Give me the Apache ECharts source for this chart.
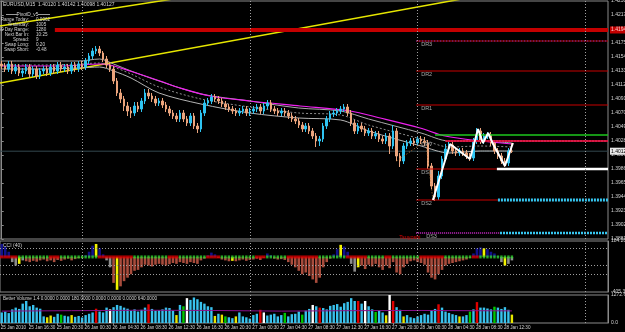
<!DOCTYPE html>
<html>
<head>
<meta charset="utf-8">
<script src="https://cdn.jsdelivr.net/npm/echarts@6/dist/echarts.min.js"></script>
<style>
html, body {margin: 0; padding: 0; background: #000;}
#main {width: 625px; height: 332px;}
</style>
</head>
<body>
<div id="main"></div>
<script>
const FONT = 'Liberation Sans'
const TXT = '#d4d4d4'

//half hour bars, 25 Jan 12:30 .. 28 Jan 13:30, [open, close, low, high]
const candles = [
  [1.41435, 1.41405, 1.4136, 1.4148], [1.41405, 1.4136, 1.41315, 1.4145], [1.4136, 1.41435, 1.41315, 1.4148],
  [1.41435, 1.4133, 1.41285, 1.4148], [1.4133, 1.4139, 1.41285, 1.41435], [1.4139, 1.413, 1.41255, 1.41435],
  [1.413, 1.4133, 1.4124, 1.41375], [1.4133, 1.4139, 1.41285, 1.41435], [1.4139, 1.41285, 1.41225, 1.41435],
  [1.41285, 1.4136, 1.4124, 1.41405], [1.4136, 1.41255, 1.4121, 1.41405], [1.41255, 1.4133, 1.4121, 1.41375],
  [1.4133, 1.4136, 1.41285, 1.41405], [1.4136, 1.413, 1.41255, 1.41405], [1.413, 1.4139, 1.41255, 1.41435],
  [1.4139, 1.4133, 1.41285, 1.41435], [1.4133, 1.4142, 1.41285, 1.41465], [1.4142, 1.4136, 1.41315, 1.41465],
  [1.4136, 1.4139, 1.41315, 1.41435], [1.4139, 1.4133, 1.41285, 1.41435], [1.4133, 1.4142, 1.41285, 1.41465],
  [1.4142, 1.4136, 1.41315, 1.41465], [1.4136, 1.41435, 1.41315, 1.4148], [1.41435, 1.4139, 1.41345, 1.4148],
  [1.4139, 1.4148, 1.41345, 1.41525], [1.4148, 1.41555, 1.41435, 1.416], [1.41555, 1.4163, 1.4151, 1.41675],
  [1.4163, 1.4166, 1.41585, 1.41705], [1.4166, 1.416, 1.41555, 1.41705], [1.416, 1.4151, 1.41465, 1.4163],
  [1.4151, 1.4142, 1.41375, 1.41555], [1.4142, 1.4136, 1.41315, 1.41465], [1.4136, 1.4118, 1.41135, 1.41405],
  [1.4118, 1.41, 1.40955, 1.41225], [1.41, 1.4091, 1.4085, 1.4106], [1.4091, 1.40805, 1.4073, 1.40955],
  [1.40805, 1.4073, 1.40655, 1.40865], [1.4073, 1.407, 1.40625, 1.4079], [1.407, 1.40805, 1.40655, 1.40865],
  [1.40805, 1.4076, 1.40715, 1.40865], [1.4076, 1.4088, 1.40715, 1.40925], [1.4088, 1.41, 1.40835, 1.4106],
  [1.41, 1.40955, 1.4091, 1.4106], [1.40955, 1.4091, 1.40865, 1.41], [1.4091, 1.4085, 1.40805, 1.40955],
  [1.4085, 1.4088, 1.40805, 1.40925], [1.4088, 1.4082, 1.40775, 1.40925], [1.4082, 1.4076, 1.40715, 1.40865],
  [1.4076, 1.407, 1.40655, 1.40805], [1.407, 1.40655, 1.4061, 1.40745], [1.40655, 1.4061, 1.40565, 1.407],
  [1.4061, 1.407, 1.40565, 1.40745], [1.407, 1.4061, 1.40565, 1.40745], [1.4061, 1.4055, 1.40505, 1.40655],
  [1.4055, 1.40655, 1.40505, 1.407], [1.40655, 1.40505, 1.4046, 1.407], [1.40505, 1.4046, 1.404, 1.4055],
  [1.4046, 1.407, 1.40415, 1.40745], [1.407, 1.4085, 1.40655, 1.40895], [1.4085, 1.4088, 1.40805, 1.40925],
  [1.4088, 1.4094, 1.40835, 1.40985], [1.4094, 1.4091, 1.40865, 1.40985], [1.4091, 1.4088, 1.40835, 1.40955],
  [1.4088, 1.40835, 1.4079, 1.40925], [1.40835, 1.4079, 1.40745, 1.4088], [1.4079, 1.4076, 1.40715, 1.40835],
  [1.4076, 1.4073, 1.40685, 1.40805], [1.4073, 1.407, 1.40655, 1.40775], [1.407, 1.4073, 1.40655, 1.40775],
  [1.4073, 1.4076, 1.40685, 1.40805], [1.4076, 1.407, 1.40655, 1.40805], [1.407, 1.4073, 1.40655, 1.40775],
  [1.4073, 1.4076, 1.40685, 1.40805], [1.4076, 1.4079, 1.40715, 1.40835], [1.4079, 1.4073, 1.40685, 1.40835],
  [1.4073, 1.40805, 1.40685, 1.4085], [1.40805, 1.4085, 1.4076, 1.40895], [1.4085, 1.4076, 1.40715, 1.40895],
  [1.4076, 1.4073, 1.40685, 1.40805], [1.4073, 1.407, 1.40655, 1.40775], [1.407, 1.4073, 1.40655, 1.40775],
  [1.4073, 1.407, 1.40655, 1.40775], [1.407, 1.40655, 1.4061, 1.40745], [1.40655, 1.4061, 1.40565, 1.407],
  [1.4061, 1.4058, 1.40535, 1.40655], [1.4058, 1.4052, 1.40475, 1.40625], [1.4052, 1.4046, 1.40415, 1.40565],
  [1.4046, 1.40505, 1.40415, 1.4055], [1.40505, 1.4043, 1.40385, 1.4055], [1.4043, 1.40355, 1.4031, 1.40475],
  [1.40355, 1.4028, 1.4019, 1.404], [1.4028, 1.4031, 1.40205, 1.40355], [1.4031, 1.40505, 1.40265, 1.4055],
  [1.40505, 1.4061, 1.4046, 1.40655], [1.4061, 1.40685, 1.40565, 1.4073], [1.40685, 1.407, 1.4064, 1.40745],
  [1.407, 1.4073, 1.40655, 1.40775], [1.4073, 1.4076, 1.40685, 1.40805], [1.4076, 1.4079, 1.40715, 1.40835],
  [1.4079, 1.407, 1.40655, 1.40835], [1.407, 1.4055, 1.40505, 1.40745], [1.4055, 1.4043, 1.40385, 1.40595],
  [1.4043, 1.40505, 1.40385, 1.4055], [1.40505, 1.4046, 1.40415, 1.4055], [1.4046, 1.404, 1.40355, 1.40505],
  [1.404, 1.4043, 1.40355, 1.40475], [1.4043, 1.40355, 1.4031, 1.40475], [1.40355, 1.40385, 1.4031, 1.4043],
  [1.40385, 1.4031, 1.40265, 1.4043], [1.4031, 1.4028, 1.40235, 1.40355], [1.4028, 1.40355, 1.40235, 1.404],
  [1.40355, 1.40205, 1.40085, 1.404], [1.40205, 1.4043, 1.4016, 1.4052], [1.4043, 1.40055, 1.3998, 1.40475],
  [1.40055, 1.3998, 1.3989, 1.401], [1.3998, 1.40205, 1.39935, 1.4025], [1.40205, 1.4025, 1.4016, 1.40295],
  [1.4025, 1.4028, 1.40205, 1.40325], [1.4028, 1.4025, 1.40205, 1.40325], [1.4025, 1.4031, 1.40205, 1.40355],
  [1.4031, 1.4028, 1.40235, 1.40355], [1.4028, 1.4025, 1.40205, 1.4034], [1.4025, 1.39905, 1.3986, 1.40295],
  [1.39905, 1.39605, 1.3956, 1.3995], [1.39605, 1.3944, 1.3938, 1.3965], [1.3944, 1.39755, 1.39395, 1.3983],
  [1.39755, 1.4001, 1.3971, 1.40055], [1.4001, 1.4016, 1.3998, 1.40235], [1.4016, 1.4022, 1.40115, 1.40265],
  [1.4022, 1.4013, 1.40085, 1.40265], [1.4013, 1.401, 1.40055, 1.40175], [1.401, 1.4013, 1.40055, 1.40175],
  [1.4013, 1.401, 1.40055, 1.40175], [1.401, 1.40055, 1.4001, 1.40145], [1.40055, 1.40025, 1.3998, 1.401],
  [1.40025, 1.4028, 1.3998, 1.40325], [1.4028, 1.4043, 1.40235, 1.40475], [1.4043, 1.4028, 1.40235, 1.40475],
  [1.4028, 1.40355, 1.40235, 1.404], [1.40355, 1.4037, 1.4031, 1.40415], [1.4037, 1.4025, 1.40205, 1.40415],
  [1.4025, 1.4013, 1.40085, 1.40295], [1.4013, 1.40055, 1.4001, 1.40175], [1.40055, 1.3998, 1.39935, 1.401],
  [1.3998, 1.3995, 1.3989, 1.40025], [1.3995, 1.4013, 1.39905, 1.40175], [1.4013, 1.40127, 1.401, 1.4025],
]

//moving averages, [bar, price]
const maUpper = [[0, 1.4148], [11, 1.4148], [22, 1.4148], [28, 1.4151], [32, 1.41435], [37, 1.4133], [45, 1.4118], [57, 1.40985], [71, 1.4088], [85, 1.40775], [97, 1.4073], [105, 1.4061], [120, 1.404], [128, 1.4028], [137, 1.4028], [146, 1.4025]]
const maMiddle = [[0, 1.4142], [11, 1.4142], [22, 1.41435], [28, 1.4145], [32, 1.4139], [37, 1.41285], [45, 1.4109], [57, 1.4091], [71, 1.4079], [85, 1.407], [97, 1.4067], [105, 1.4052], [120, 1.4031], [128, 1.4019], [137, 1.40205], [146, 1.4019]]
const maLower = [[0, 1.4136], [11, 1.4136], [22, 1.41375], [28, 1.4139], [32, 1.4133], [37, 1.41225], [45, 1.41], [57, 1.40835], [71, 1.407], [85, 1.40625], [97, 1.40595], [105, 1.4043], [120, 1.40205], [128, 1.401], [137, 1.4013], [146, 1.4013]]
const maSlow = [[0, 1.41405], [16.7, 1.41405], [28.1, 1.41435], [31, 1.4142], [36.7, 1.4133], [45.3, 1.4118], [51, 1.41075], [59.6, 1.40955], [71, 1.4088], [85.4, 1.40805], [99.7, 1.4073], [108.3, 1.40625], [119.7, 1.40475], [126.9, 1.40355], [136.9, 1.4028], [146, 1.40235]]

//zigzag and trend lines
const zigzag = [[123.4, 1.39395], [128.3, 1.40235], [134, 1.4001], [136.3, 1.4046], [137.7, 1.4025], [139.2, 1.404], [140.6, 1.40235], [144, 1.39905], [146.3, 1.4025]]
const zigzagDotted = [[113, 1.3998], [121.3, 1.4028], [123.4, 1.39395]]
const trendLong = [[-0.5, 1.4115], [173.5, 1.4281]]
const trendShort = [[-0.5, 1.42005], [173.5, 1.4343]]

//pivot levels
const levelNames = ['DR3', 'DR2', 'DR1', 'DPV', 'DS1', 'DS2', 'DS3']
const levelPrices = [1.4178, 1.4133, 1.4082, 1.4028, 1.3986, 1.39395, 1.389]
const dayStart = 118.6
const rangeStart = 15.2
const rangeLevel = 1.41945
const greenLevel = 1.4037
const bidPrice = 1.40127

//CCI(40)
const cci = [
  150, 120, 60, -60, -100, -80,
  -40, -50, -60, -45, -55, -40,
  -30, -50, -40, -60, -35, -45,
  -30, -20, -40, -25, -15, -10,
  20, 60, 130, 150, 100,
  30, -40, -120,
  -300, -380, -340, -280, -240,
  -200, -160, -150, -120,
  -90, -100, -110, -90,
  -80, -90, -100, -85, -70, -80,
  -60, -70, -80, -60, -70, -80,
  -40, -20, 20, 50, 30,
  -10, -30, -40, -50, -45,
  -50, -40, -30, -45, -35,
  -30, -20, -35, -10, 40,
  20, -20, -30, -25, -35,
  -60, -90, -120, -160, -200,
  -180, -220, -260, -300, -240,
  -120, -60, -20, 30, 90,
  140, 120, 60, -80, -170,
  -120, -100, -140, -90, -110,
  -80, -120, -150, -100, -130,
  -60, -180, -200, -120, -80,
  -50, -40, -60, -70, -90,
  -180, -240, -260, -200, -150,
  -100, -80, -70, -60, -50,
  -40, -30, -10, 40, 100,
  110, 100, 90, 60, 40,
  10, -60, -100, -80, -40,
]
const cciYellow = [5, 27, 33, 66, 97, 102, 138, 144]
const cciGrey = [3, 4, 5, 6, 29, 30, 31, 99, 100, 101, 142, 143, 144, 145, 146]
const cciBandRuns = [['R', 5], ['G', 9], ['R', 3], ['G', 11], ['R', 10], ['G', 10], ['R', 3], ['G', 8], ['R', 4], ['G', 10], ['R', 3], ['G', 6], ['R', 9], ['G', 8], ['R', 6], ['G', 5], ['R', 2], ['G', 8], ['R', 7], ['G', 8], ['R', 2], ['G', 10]]
const cciTicks = [[184.203, '184.203'], [100, '100'], [0, '0.00'], [-100, '-100'], [-200, '-200'], [-405.379, '-405.379']]

//Better Volume
const volumes = [
  480, 520, 450, 620, 700, 640, 880, 1000, 760, 820, 700, 650,
  300, 260, 340, 280, 420, 380, 330, 300, 360, 280, 320, 250,
  360, 420, 480, 650, 520, 480, 700, 620, 720, 820, 780, 700,
  650, 560, 620, 520, 600, 700, 850, 640, 560, 580, 620, 700,
  680, 560, 360, 820, 760, 1130, 1050, 1160, 1080, 960, 880, 760,
  720, 320, 420, 380, 300, 260, 220, 300, 480, 300, 260, 200,
  360, 420, 600, 480, 340, 380, 420, 300, 360, 460, 300, 400,
  420, 520, 380, 560, 640, 820, 760, 700, 680, 620, 780, 820,
  860, 740, 900, 960, 1130, 1000, 1000, 880, 1000, 760, 620, 500,
  560, 480, 350, 1272, 1000, 720, 600, 300, 360, 260, 220, 300,
  360, 420, 380, 560, 640, 850, 700, 520, 460, 400, 360, 300,
  300, 360, 520, 620, 950, 700, 700, 660, 620, 740, 700, 640,
  720, 600, 380,
]
const volYellow = [13, 14, 20, 50, 61, 63, 67, 110, 115, 131, 146]
const volGreen = [17, 52, 64, 81, 86, 107, 134, 141]
const volRed = [27, 42, 74, 91, 102, 112, 125, 136]
const volWhite = [31, 53, 75, 89, 104, 111]
const volAverage = [[0, 540], [20, 560], [40, 580], [60, 570], [80, 540], [100, 560], [120, 570], [146, 550]]
const volTicks = [[1272.6, '1272.6'], [0, '0.0']]

//time axis
const tickLabels = ['25 Jan 2010', '25 Jan 16:30', '25 Jan 20:30', '26 Jan 00:30', '26 Jan 04:30', '26 Jan 08:30', '26 Jan 12:30', '26 Jan 16:30', '26 Jan 20:30', '27 Jan 00:30', '27 Jan 04:30', '27 Jan 08:30', '27 Jan 12:30', '27 Jan 16:30', '27 Jan 20:30', '28 Jan 00:30', '28 Jan 04:30', '28 Jan 08:30', '28 Jan 12:30']
const daySplits = [23, 71, 119, 167]

const header = 'EURUSD,M15  1.40120 1.40142 1.40098 1.40127'
const infoTitle = 'PivotD_v5'
const infoRows = [['Range Today:', '0.0062'], ['Yesterday:', '1005'], ['30 Day Range:', '1280'], ['Next Bar In:', '10:25'], ['Spread:', '9'], ['Swap Long:', '0.20'], ['Swap Short:', '-0.48']]

const slots = 174
const cats = Array.from({length: slots}, (_, i) => String(i))

const seg = (x0, x1, p) => [[x0, p], [x1, p]]
const overlay = (data, color, width, type, z) => ({
  type: 'line', xAxisIndex: 1, yAxisIndex: 0, data, symbol: 'none', silent: true, z: z || 4,
  lineStyle: {color, width, type: type || 'solid'},
})
const pick = (list, v) => {
  const hit = list.find((t) => Math.abs(t[0] - v) < 1e-6)
  return hit ? hit[1] : ''
}
const dayLines = () => ({
  silent: true, symbol: 'none', label: {show: false},
  lineStyle: {color: '#a0a0a0', type: [1, 2], width: 1},
  data: daySplits.map((d) => ({xAxis: d})),
})

const cciBand = []
cciBandRuns.forEach(([c, n]) => { for (let k = 0; k < n; k++) cciBand.push(c) })

const cciColor = (v, i) => {
  if (cciYellow.includes(i)) return '#f2f200'
  if (v > 0) return '#12128c'
  if (cciGrey.includes(i)) return '#8c8c8c'
  return '#a84c3c'
}
const volColor = (i) => {
  if (volWhite.includes(i)) return '#ffffff'
  if (volRed.includes(i)) return '#e00000'
  if (volGreen.includes(i)) return '#00c800'
  if (volYellow.includes(i)) return '#e6e600'
  return '#38c2ee'
}

const axisText = {color: TXT, fontSize: 5, fontFamily: FONT, margin: 3, hideOverlap: false}
const gridBase = {left: 0, right: 17, show: true, borderColor: '#8a8a8a', borderWidth: 1, outerBoundsMode: 'none', containLabel: false}
const hiddenCat = (gridIndex) => ({
  type: 'category', gridIndex, data: cats, boundaryGap: true,
  axisLine: {show: false}, axisTick: {show: false}, axisLabel: {show: false}, splitLine: {show: false},
})

const option = {
  backgroundColor: '#000000',
  animation: false,
  grid: [
    {...gridBase, top: 1, height: 238},
    {...gridBase, top: 241, height: 51},
    {...gridBase, top: 295, height: 28},
  ],
  xAxis: [
    hiddenCat(0),
    {type: 'value', gridIndex: 0, min: -0.5, max: slots - 0.5, show: false},
    hiddenCat(1),
    {
      type: 'category', gridIndex: 2, data: cats, boundaryGap: true,
      axisLine: {show: false},
      axisTick: {show: true, alignWithLabel: true, length: 2, lineStyle: {color: '#8a8a8a'},
        interval: (i) => i % 8 === 0 && i / 8 < tickLabels.length},
      axisLabel: {...axisText, fontSize: 4.6, align: 'left', margin: 2, padding: [0, 0, 0, -1],
        interval: (i) => i % 8 === 0 && i / 8 < tickLabels.length,
        formatter: (v, i) => tickLabels[i / 8] || ''},
      splitLine: {show: false},
    },
  ],
  yAxis: [
    {
      type: 'value', gridIndex: 0, position: 'right', min: 1.3881, max: 1.4238, interval: 0.0021,
      axisLine: {show: true, lineStyle: {color: '#8a8a8a'}},
      axisTick: {show: true, length: 2, lineStyle: {color: '#8a8a8a'}},
      axisLabel: {...axisText, formatter: (v) => v.toFixed(5)},
      splitLine: {show: false},
    },
    {
      type: 'value', gridIndex: 1, position: 'right', min: -405.379, max: 184.203, interval: 100,
      axisLine: {show: true, lineStyle: {color: '#8a8a8a'}},
      axisTick: {show: false},
      axisLabel: {...axisText, formatter: (v) => pick(cciTicks, v)},
      splitLine: {show: false},
    },
    {
      type: 'value', gridIndex: 2, position: 'right', min: 0, max: 1272.6, interval: 1272.6,
      axisLine: {show: true, lineStyle: {color: '#8a8a8a'}},
      axisTick: {show: false},
      axisLabel: {...axisText, formatter: (v) => pick(volTicks, v)},
      splitLine: {show: false},
    },
  ],
  series: [
    {
      type: 'candlestick', xAxisIndex: 0, yAxisIndex: 0, data: candles, barWidth: 2, z: 3,
      itemStyle: {color: '#2ec4f2', color0: '#eba47c', borderColor: '#2ec4f2', borderColor0: '#eba47c', borderWidth: 1},
      markLine: dayLines(),
    },
    //trend lines
    overlay(trendLong, '#e6e600', 1.5, 'solid', 2),
    overlay(trendShort, '#e6e600', 1.5, 'solid', 2),
    //moving averages
    {...overlay(maUpper, '#a8a8a8', 1, 'solid', 3), smooth: 0.3},
    {...overlay(maMiddle, '#8c8c8c', 1, [2, 2], 3), smooth: 0.3},
    {...overlay(maLower, '#b4b4b4', 1, 'solid', 3), smooth: 0.3},
    {...overlay(maSlow, '#f020f0', 1.2, 'solid', 3), smooth: 0.3},
    //current bid
    {...overlay(seg(-0.5, slots - 0.5, bidPrice), '#33474f', 1, 'solid', 2),
      endLabel: {show: true, formatter: () => bidPrice.toFixed(5), color: '#000', backgroundColor: '#e8e8e8',
        fontSize: 5, fontFamily: FONT, padding: [1, 1], distance: 2}},
    //30 day range
    {...overlay(seg(rangeStart, slots - 0.5, rangeLevel), '#c40000', 4),
      endLabel: {show: true, formatter: () => rangeLevel.toFixed(5), color: '#ffd0d0', backgroundColor: '#c40000',
        fontSize: 5, fontFamily: FONT, padding: [1, 1], distance: 2}},
    //pivots
    overlay(seg(dayStart, slots - 0.5, levelPrices[0]), '#c80000', 1),
    overlay(seg(dayStart, slots - 0.5, levelPrices[0]), '#7a3cd0', 1, [1, 2], 5),
    overlay(seg(dayStart, slots - 0.5, levelPrices[1]), '#c80000', 1),
    overlay(seg(dayStart, slots - 0.5, levelPrices[2]), '#c80000', 1),
    overlay(seg(124, slots - 0.5, greenLevel), '#1ec81e', 1.5),
    overlay(seg(127, slots - 0.5, levelPrices[3]), '#c8102e', 2),
    overlay(seg(127, slots - 0.5, levelPrices[3]), '#ff3ca0', 1, [1, 2], 5),
    overlay(seg(dayStart, 141.7, levelPrices[4]), '#c80000', 1),
    overlay(seg(141.7, slots - 0.5, levelPrices[4]), '#ffffff', 2.5),
    overlay(seg(dayStart, 142, levelPrices[5]), '#c80000', 1),
    overlay(seg(142, slots - 0.5, levelPrices[5]), '#36c6f0', 3, [2, 1]),
    overlay(seg(dayStart, 142.6, levelPrices[6]), '#a020a0', 2, [1, 1]),
    overlay(seg(142.6, slots - 0.5, levelPrices[6]), '#36c6f0', 2.5, [2, 1]),
    //zigzag
    overlay(zigzagDotted, '#c8803c', 1, [1, 2], 5),
    overlay(zigzag, '#ffffff', 2, 'solid', 6),
    //CCI
    {
      type: 'bar', xAxisIndex: 2, yAxisIndex: 1, barWidth: 2.6, z: 2,
      data: cci.map((v, i) => ({value: v, itemStyle: {color: cciColor(v, i)}})),
      markLine: {
        silent: true, symbol: 'none', label: {show: false},
        lineStyle: {color: '#a0a0a0', type: [1, 2], width: 1},
        data: [{yAxis: 100}, {yAxis: -100}, {yAxis: -200}, ...daySplits.map((d) => ({xAxis: d}))],
      },
    },
    {
      type: 'scatter', xAxisIndex: 2, yAxisIndex: 1, symbol: 'rect', z: 4, silent: true,
      data: cciBand.map((c, i) => ({
        value: [i, 0], symbolSize: c === 'G' ? [2.4, 3] : [3.6, 3],
        itemStyle: {color: c === 'G' ? '#2ed22e' : '#d80000'},
      })),
    },
    //volume
    {
      type: 'bar', xAxisIndex: 3, yAxisIndex: 2, barWidth: 2.4, z: 2,
      data: volumes.map((v, i) => ({value: v, itemStyle: {color: volColor(i)}})),
      markLine: dayLines(),
    },
    {
      type: 'line', xAxisIndex: 3, yAxisIndex: 2, data: volAverage, symbol: 'none', silent: true, z: 3,
      lineStyle: {color: '#8a108a', width: 1},
    },
  ],
}

const chart = echarts.init(document.getElementById('main'), null, {renderer: 'canvas'})
chart.setOption(option)

//texts
const text = (x, y, str, color, size, align) => ({
  type: 'text', x, y, silent: true, z: 100,
  style: {text: str, fill: color || TXT, fontSize: size || 4.8, fontFamily: FONT, align: align || 'left', verticalAlign: 'middle'},
})
const rule = (x1, x2, y) => ({
  type: 'line', silent: true, z: 100, shape: {x1, y1: y, x2, y2: y}, style: {stroke: '#9a9a9a', lineWidth: 1},
})

const graphics = [
  text(3, 5, header, TXT, 5),
  rule(6, 17, 14.5), rule(38, 50, 14.5),
  text(27.5, 14.3, infoTitle, TXT, 4.8, 'center'),
  ...infoRows.map(([k, v], i) => text(29, 19.6 + i * 5, k, TXT, 4.6, 'right')),
  ...infoRows.map(([k, v], i) => text(36, 19.6 + i * 5, v, TXT, 4.6, 'left')),
  text(3, 245.5, 'CCI (40)', TXT, 5),
  text(3, 298.5, 'Better Volume 1.4 0.0000 0.0000 180.0000 0.0000 0.0000 0.0000 640.0000', TXT, 4.6),
]
levelNames.forEach((name, i) => {
  const [x, y] = chart.convertToPixel({xAxisIndex: 1, yAxisIndex: 0}, [dayStart, levelPrices[i]])
  graphics.push(text(x + (name === 'DS3' ? 10 : 5), y + 3.5, name, '#a8a8a8', 5.5))
})
const [tx, ty] = chart.convertToPixel({xAxisIndex: 1, yAxisIndex: 0}, [dayStart, levelPrices[6]])
graphics.push(text(tx - 17, ty + 4, 'Tsuyoshi', '#e00000', 5.5))

chart.setOption({graphic: graphics})
</script>
</body>
</html>
